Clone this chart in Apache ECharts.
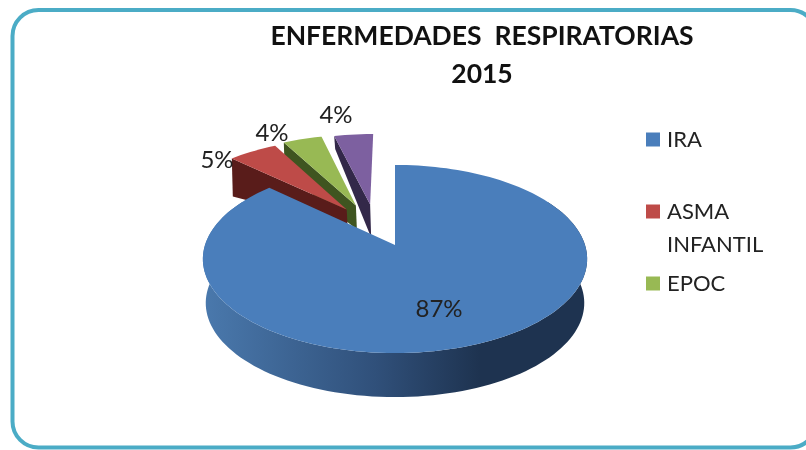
<!DOCTYPE html>
<html>
<head>
<meta charset="utf-8">
<style>
  html, body { margin: 0; padding: 0; background: #fff; }
  #chart { width: 806px; height: 450px; }
</style>
</head>
<body>
<div id="chart"></div>
<script src="https://cdn.jsdelivr.net/npm/echarts@6/dist/echarts.min.js"></script>
<script>
const categories = ['IRA', 'ASMA INFANTIL', 'EPOC', 'OTRAS']  // 4th entry is cut off in the legend
const values = [87, 5, 4, 4]
const legendNames = ['IRA', 'ASMA INFANTIL', 'EPOC']

const colors = ['#4a7ebb', '#be4b48', '#98b954', '#7d60a0']
const wallColors = [null, '#591c1a', '#3f5520', '#332849']
const FONT = 'Lato, "Open Sans", sans-serif'

// perspective of the disc: centre of the pie on screen, half axes, strength
const cx = 395, cy = 245, a = 190, b = 92, k = 0.149
// how far each slice is pulled out, in disc units
const explode = [[0, 0], [-0.27, -0.41], [-0.22, -0.46], [-0.14, -0.47]]
// wall height at the outer corner and at the tip of the small slices
const wallDepth = [[44, 44], [38, 17], [30, 24], [13, 33]]
const labelPos = [[439, 309], [217, 160], [272, 133], [336, 115]]
const total = values.reduce((s, v) => s + v, 0)

function project(u, v) {
  const w = 1 - k * v
  return [cx + a * u / w, cy + b * v / w]
}

function rimPoint(deg, off) {
  const t = deg * Math.PI / 180
  return project(Math.sin(t) + off[0], -Math.cos(t) + off[1])
}

function renderSlice(i) {
  return function (params, api) {
    const value = api.value(0)
    let start = 0
    for (let j = 0; j < i; j++) start += values[j] / total * 360
    const end = start + value / total * 360
    const off = explode[i]
    const tip = project(off[0], off[1])
    const arc = []
    for (let d = start; d < end; d += 2) arc.push(rimPoint(d, off))
    arc.push(rimPoint(end, off))

    const children = []
    const base = (values.length - i) * 10

    if (i === 0) {
      // front wall of the big slice, drawn below its top
      const front = []
      for (let d = 60; d <= 300; d += 2) front.push(rimPoint(d, off))
      const bottom = front.map(p => [cx + (p[0] - cx) * 0.985, p[1] + wallDepth[0][0]]).reverse()
      children.push({
        type: 'polygon',
        z2: base,
        shape: { points: front.concat(bottom) },
        style: {
          fill: new echarts.graphic.LinearGradient(0, 0, 1, 0, [
            { offset: 0, color: '#4a79ad' },
            { offset: 0.45, color: '#30507a' },
            { offset: 0.72, color: '#1e3350' },
            { offset: 1, color: '#1e3350' }
          ])
        }
      })
    } else {
      const corner = arc[0]
      children.push({
        type: 'polygon',
        z2: base,
        shape: {
          points: [
            corner,
            tip,
            [tip[0] + 1, tip[1] + wallDepth[i][1]],
            [corner[0] + 1, corner[1] + wallDepth[i][0]]
          ]
        },
        style: { fill: wallColors[i] }
      })
    }

    children.push({
      type: 'polygon',
      z2: base + 1,
      shape: { points: [tip].concat(arc) },
      style: { fill: colors[i] }
    })
    children.push({
      type: 'text',
      z2: 100,
      style: {
        text: Math.round(value / total * 100) + '%',
        x: labelPos[i][0],
        y: labelPos[i][1],
        align: 'center',
        verticalAlign: 'middle',
        font: '24px ' + FONT,
        fill: '#222'
      }
    })
    return { type: 'group', children: children }
  }
}

const chart = echarts.init(document.getElementById('chart'))
chart.setOption({
  animation: false,
  title: {
    text: 'ENFERMEDADES  RESPIRATORIAS\n2015',
    left: 477,
    top: 12,
    textAlign: 'center',
    textStyle: {
      fontFamily: FONT,
      fontWeight: 'bold',
      fontSize: 26.5,
      lineHeight: 38,
      color: '#111'
    }
  },
  legend: {
    orient: 'vertical',
    left: 646,
    top: 123,
    padding: 0,
    itemWidth: 14,
    itemHeight: 14,
    itemGap: 6,
    icon: 'rect',
    data: legendNames,
    // blank first line keeps the square level with the word ASMA
    formatter: name => name === 'ASMA INFANTIL' ? ' \nASMA\nINFANTIL' : name,
    textStyle: { fontFamily: FONT, fontSize: 22, lineHeight: 33, color: '#222', padding: [0, 0, 0, 2] }
  },
  graphic: [{
    type: 'rect',
    z: 0,
    shape: { x: 12.5, y: 10, width: 804, height: 437.5, r: 26 },
    style: { fill: 'none', stroke: '#4bacc6', lineWidth: 4 }
  }],
  series: categories.map((name, i) => ({
    type: 'custom',
    name: name,
    coordinateSystem: 'none',
    itemStyle: { color: colors[i] },
    data: [[values[i]]],
    renderItem: renderSlice(i)
  }))
})

window.addEventListener('resize', () => chart.resize())
</script>
</body>
</html>
